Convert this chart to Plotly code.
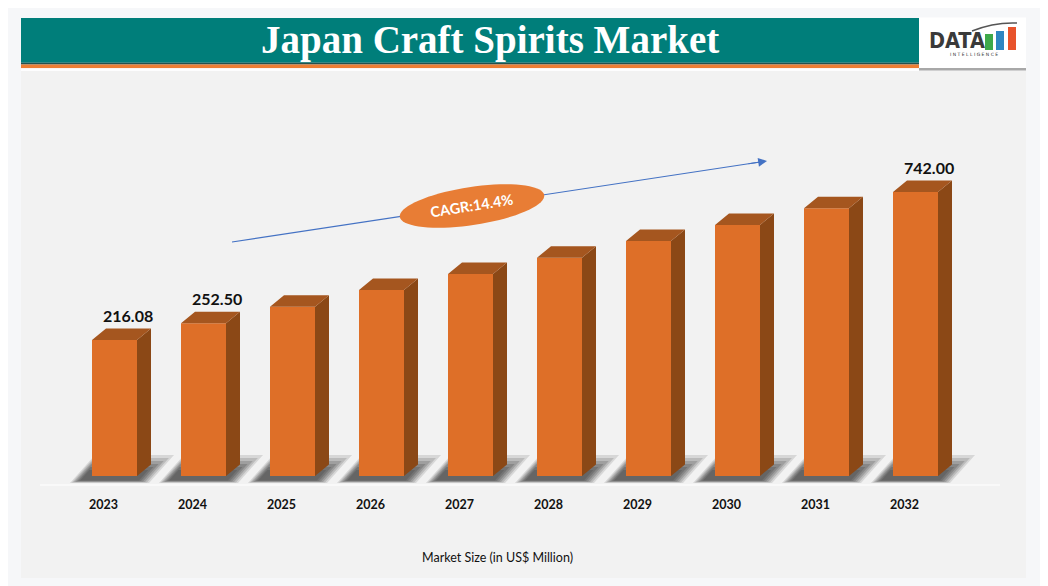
import math
import plotly.graph_objects as go

# ---------------- data ----------------
years = ["2023", "2024", "2025", "2026", "2027", "2028", "2029", "2030", "2031", "2032"]
# market size as drawn by the bar heights (US$ Million)
market_size = [216.08, 275.4, 334.4, 393.8, 450.6, 508.5, 567.9, 624.7, 684.1, 742.00]
value_labels = ["216.08", "252.50", "", "", "", "", "", "", "", "742.00"]
cagr_text = "CAGR:14.4%"
title_text = "Japan Craft Spirits Market"
axis_title = "Market Size (in US$ Million)"

# ---------------- geometry / style ----------------
W, H = 1048, 586
OFF = 8                 # page body margin offset
FLOOR = -267.2          # value at the bar baseline (truncated axis)
S = 0.28141             # pixels per value unit
BASE_PX = 476           # baseline pixel row
STEP_PX = 89            # pixels per category
CAT0_PX = 103           # pixel of first category centre

FRONT = "#DE6F28"
SIDE = "#8B4816"
TOP = "#A5561F"


def px(x):
    return (x - OFF) / W


def py(y):
    return 1 - (y - OFF) / H


# axis domains (pixels) -> ranges
X0_PX, X1_PX = 30, 1010
Y_TOP_PX, Y_BOT_PX = 75, 578
xr0 = (X0_PX - CAT0_PX) / STEP_PX
xr1 = (X1_PX - CAT0_PX) / STEP_PX
yr0 = FLOOR - (Y_BOT_PX - BASE_PX) / S
yr1 = FLOOR + (BASE_PX - Y_TOP_PX) / S

# bar face geometry in axis units
L_OFF = -11 / STEP_PX
BAR_W = 45 / STEP_PX
DX = 14 / STEP_PX
DY = 11.5 / S

idx = list(range(len(years)))

fig = go.Figure()

# front faces
fig.add_trace(go.Bar(
    x=idx, y=[v - FLOOR for v in market_size], base=FLOOR,
    offset=L_OFF, width=BAR_W,
    marker=dict(color=FRONT, line=dict(width=0)),
    hoverinfo="skip", showlegend=False,
))

# side and top faces
sx, sy, tx, ty = [], [], [], []
for i, v in zip(idx, market_size):
    L = i + L_OFF
    R = L + BAR_W
    sx += [R, R + DX, R + DX, R, R, None]
    sy += [FLOOR, FLOOR + DY, v + DY, v, FLOOR, None]
    tx += [L, L + DX, R + DX, R, L, None]
    ty += [v, v + DY, v + DY, v, v, None]
fig.add_trace(go.Scatter(x=sx, y=sy, mode="lines", fill="toself", fillcolor=SIDE,
                         line=dict(width=0, color=SIDE), hoverinfo="skip", showlegend=False))
fig.add_trace(go.Scatter(x=tx, y=ty, mode="lines", fill="toself", fillcolor=TOP,
                         line=dict(width=0, color=TOP), hoverinfo="skip", showlegend=False))

shapes = []
# background panel
shapes.append(dict(type="rect", xref="paper", yref="paper", x0=px(21), x1=px(1026),
                   y0=py(578), y1=py(71), fillcolor="#F2F2F2", line=dict(width=0), layer="below"))
# floor light line
shapes.append(dict(type="line", xref="paper", yref="paper", x0=px(40), x1=px(1000),
                   y0=py(485), y1=py(485), line=dict(color="#FBFBFB", width=1.5), layer="below"))

# shadows: stacked slanted parallelograms (soft edges), px offsets from each bar
SLANT = 25.0 / 28.0
for i in idx:
    L = i + L_OFF
    R = L + BAR_W
    for k, op in enumerate([0.12, 0.15, 0.17, 0.18, 0.18, 0.15]):
        inset = 2.0 * k
        top = 21.0 - 3.0 * k
        bot = -7.0 + 0.5 * k
        blx_px = -22.0 + inset
        brx_px = 12.0 - inset
        dh = (top - bot) * SLANT
        blx = L + blx_px / STEP_PX
        brx = R + brx_px / STEP_PX
        tlx = L + (blx_px + dh) / STEP_PX
        trx = R + (brx_px + dh) / STEP_PX
        yb = FLOOR + bot / S
        yt = FLOOR + top / S
        path = "M {},{} L {},{} L {},{} L {},{} Z".format(blx, yb, brx, yb, trx, yt, tlx, yt)
        shapes.append(dict(type="path", xref="x", yref="y", path=path,
                           fillcolor="rgba(25,25,25,{})".format(op), line=dict(width=0), layer="below"))

# title bar
shapes.append(dict(type="rect", xref="paper", yref="paper", x0=px(21), x1=px(919),
                   y0=py(62.7), y1=py(18), fillcolor="#007E7A", line=dict(width=0)))
shapes.append(dict(type="rect", xref="paper", yref="paper", x0=px(21), x1=px(919),
                   y0=py(64.5), y1=py(62.7), fillcolor="#24514D", line=dict(width=0)))
shapes.append(dict(type="rect", xref="paper", yref="paper", x0=px(21), x1=px(919),
                   y0=py(68.3), y1=py(64.5), fillcolor="#EC7E33", line=dict(width=0)))
shapes.append(dict(type="rect", xref="paper", yref="paper", x0=px(21), x1=px(919),
                   y0=py(70.8), y1=py(68.3), fillcolor="#FFFFFF", line=dict(width=0)))
# logo box + shadow
shapes.append(dict(type="rect", xref="paper", yref="paper", x0=px(919), x1=px(1026),
                   y0=py(70.5), y1=py(19), fillcolor="#A8A8A8", line=dict(width=0)))
shapes.append(dict(type="rect", xref="paper", yref="paper", x0=px(919), x1=px(1026),
                   y0=py(68), y1=py(17.5), fillcolor="#FFFFFF", line=dict(width=0)))
# logo bars
for x0, x1, top, col in [(985, 993, 34, "#3DA94A"), (996, 1004, 31, "#2E86C1"), (1008, 1016, 27, "#E8532B")]:
    shapes.append(dict(type="rect", xref="paper", yref="paper", x0=px(x0), x1=px(x1),
                       y0=py(50), y1=py(top), fillcolor=col, line=dict(width=0)))
shapes.append(dict(type="path", xref="paper", yref="paper",
                   path="M {},{} Q {},{} {},{}".format(px(972), py(31), px(994), py(22), px(1017), py(23)),
                   line=dict(color="#555555", width=1.5)))

# CAGR line (under the ellipse)
shapes.append(dict(type="line", xref="paper", yref="paper", x0=px(232), y0=py(242),
                   x1=px(760), y1=py(162), line=dict(color="#4472C4", width=1.1)))
# rotated ellipse
cx, cy, a, b = 472, 206, 73, 19
ang = math.radians(-8.6)
pts = []
for k in range(73):
    t = 2 * math.pi * k / 72
    ex, ey = a * math.cos(t), b * math.sin(t)
    rx = cx + ex * math.cos(ang) - ey * math.sin(ang)
    ry = cy + ex * math.sin(ang) + ey * math.cos(ang)
    pts.append((px(rx), py(ry)))
ell = "M " + " L ".join("{},{}".format(p[0], p[1]) for p in pts) + " Z"
shapes.append(dict(type="path", xref="paper", yref="paper", path=ell,
                   fillcolor="#E87D35", line=dict(width=0)))

annotations = []
# value labels
for i, v, t in zip(idx, market_size, value_labels):
    if t:
        annotations.append(dict(x=i, y=v, xref="x", yref="y", text="<b>{}</b>".format(t), showarrow=False,
                                xshift=25, yshift=25, xanchor="center", yanchor="middle",
                                font=dict(family="Lato", size=16, color="#111111")))
# year labels
for i, yr in zip(idx, years):
    annotations.append(dict(x=i, y=FLOOR, xref="x", yref="y", text="<b>{}</b>".format(yr), showarrow=False,
                            yshift=-28, xanchor="center", yanchor="middle",
                            font=dict(family="Lato", size=12.5, color="#111111")))
# axis title
annotations.append(dict(x=px(497), y=py(557), xref="paper", yref="paper", text=axis_title, showarrow=False,
                        xanchor="center", yanchor="middle", font=dict(family="Lato", size=12.5, color="#111111")))
# title
annotations.append(dict(x=px(490), y=py(40), xref="paper", yref="paper", text="<b>{}</b>".format(title_text),
                        showarrow=False, xanchor="center", yanchor="middle",
                        font=dict(family="Liberation Serif", size=39, color="#FFFFFF")))
# CAGR text
annotations.append(dict(x=px(472), y=py(206), xref="paper", yref="paper", text="<b>{}</b>".format(cagr_text),
                        showarrow=False, textangle=-9, xanchor="center", yanchor="middle",
                        font=dict(family="Lato", size=14.5, color="#FFFFFF")))
# arrowhead
annotations.append(dict(x=px(767), y=py(161), xref="paper", yref="paper", ax=-20, ay=3,
                        axref="pixel", ayref="pixel", text="", showarrow=True,
                        arrowhead=2, arrowsize=1.6, arrowwidth=1.1, arrowcolor="#4472C4"))
# logo text
annotations.append(dict(x=px(957), y=py(41), xref="paper", yref="paper", text="<b>DATA</b>", showarrow=False,
                        xanchor="center", yanchor="middle",
                        font=dict(family="DejaVu Sans Condensed", size=21.5, color="#3A3A3A")))
annotations.append(dict(x=px(974), y=py(54), xref="paper", yref="paper",
                        text="I N T E L L I G E N C E", showarrow=False, xanchor="center", yanchor="middle",
                        font=dict(family="DejaVu Sans", size=4.5, color="#333333")))

fig.update_layout(
    width=W, height=H,
    margin=dict(l=0, r=0, t=0, b=0),
    paper_bgcolor="#F6F7F9",
    plot_bgcolor="rgba(0,0,0,0)",
    shapes=shapes,
    annotations=annotations,
    xaxis=dict(domain=[px(X0_PX), px(X1_PX)], range=[xr0, xr1], visible=False, fixedrange=True),
    yaxis=dict(domain=[py(Y_BOT_PX), py(Y_TOP_PX)], range=[yr0, yr1], visible=False, fixedrange=True),
    showlegend=False,
)

fig.write_html("out.html")
